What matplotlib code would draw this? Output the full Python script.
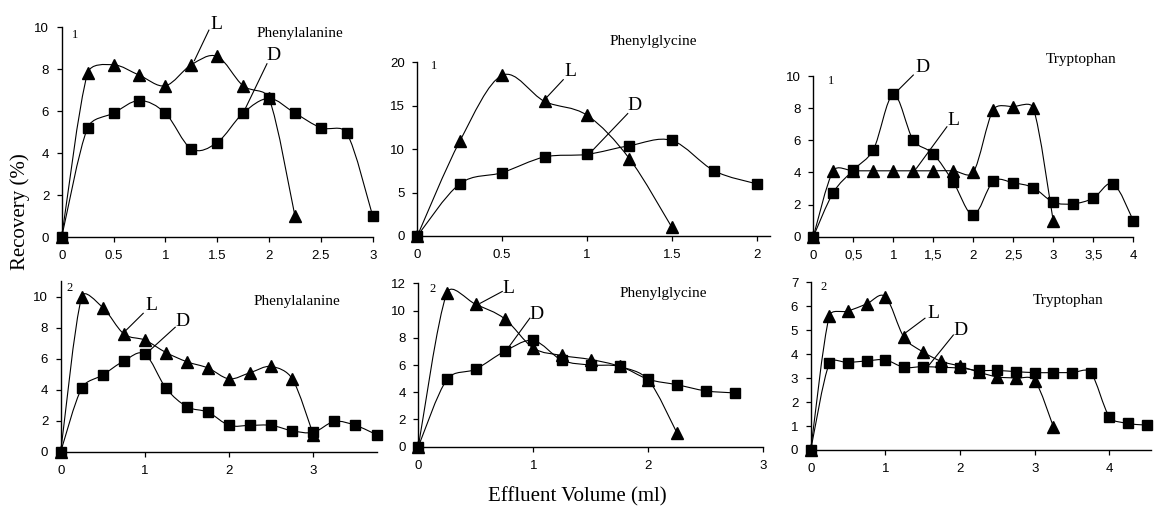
import numpy as np
import matplotlib
matplotlib.use("Agg")
import matplotlib.pyplot as plt
from matplotlib.path import Path
from matplotlib.patches import PathPatch

W, H = 1154, 509

# ---------------- data ----------------
# Panel 1: Phenylalanine (1)
p1_L_x = [0, 0.25, 0.5, 0.75, 1.0, 1.25, 1.5, 1.75, 2.0, 2.25]
p1_L_y = [0, 7.8, 8.2, 7.7, 7.2, 8.2, 8.6, 7.2, 6.6, 1.0]
p1_D_x = [0, 0.25, 0.5, 0.75, 1.0, 1.25, 1.5, 1.75, 2.0, 2.25, 2.5, 2.75, 3.0]
p1_D_y = [0, 5.2, 5.9, 6.5, 5.9, 4.2, 4.5, 5.9, 6.6, 5.9, 5.2, 4.95, 1.0]

# Panel 2: Phenylglycine (1)
p2_L_x = [0, 0.25, 0.5, 0.75, 1.0, 1.25, 1.5]
p2_L_y = [0, 10.9, 18.5, 15.5, 13.9, 8.9, 1.0]
p2_D_x = [0, 0.25, 0.5, 0.75, 1.0, 1.25, 1.5, 1.75, 2.0]
p2_D_y = [0, 6.0, 7.3, 9.1, 9.4, 10.4, 11.0, 7.5, 6.0]

# Panel 3: Tryptophan (1)
p3_L_x = [0, 0.25, 0.5, 0.75, 1.0, 1.25, 1.5, 1.75, 2.0, 2.25, 2.5, 2.75, 3.0]
p3_L_y = [0, 4.1, 4.1, 4.1, 4.1, 4.1, 4.1, 4.1, 4.0, 7.9, 8.1, 8.0, 0.95]
p3_D_x = [0, 0.25, 0.5, 0.75, 1.0, 1.25, 1.5, 1.75, 2.0, 2.25, 2.5, 2.75, 3.0,
          3.25, 3.5, 3.75, 4.0]
p3_D_y = [0, 2.75, 4.15, 5.4, 8.85, 6.0, 5.15, 3.4, 1.35, 3.45, 3.35, 3.05, 2.15,
          2.05, 2.4, 3.3, 1.0]

# Panel 4: Phenylalanine (2)
p4_L_x = [0, 0.25, 0.5, 0.75, 1.0, 1.25, 1.5, 1.75, 2.0, 2.25, 2.5, 2.75, 3.0]
p4_L_y = [0, 10.0, 9.3, 7.6, 7.2, 6.4, 5.8, 5.4, 4.7, 5.1, 5.5, 4.7, 1.1]
p4_D_x = [0, 0.25, 0.5, 0.75, 1.0, 1.25, 1.5, 1.75, 2.0, 2.25, 2.5, 2.75, 3.0,
          3.25, 3.5, 3.75]
p4_D_y = [0, 4.1, 4.95, 5.85, 6.3, 4.1, 2.9, 2.55, 1.7, 1.7, 1.7, 1.35, 1.25,
          1.95, 1.7, 1.1]

# Panel 5: Phenylglycine (2)
p5_L_x = [0, 0.25, 0.5, 0.75, 1.0, 1.25, 1.5, 1.75, 2.0, 2.25]
p5_L_y = [0, 11.3, 10.45, 9.4, 7.25, 6.7, 6.4, 5.9, 4.9, 1.0]
p5_D_x = [0, 0.25, 0.5, 0.75, 1.0, 1.25, 1.5, 1.75, 2.0, 2.25, 2.5, 2.75]
p5_D_y = [0, 4.95, 5.7, 7.0, 7.8, 6.35, 6.0, 5.9, 4.95, 4.55, 4.1, 3.95]

# Panel 6: Tryptophan (2)
p6_L_x = [0, 0.25, 0.5, 0.75, 1.0, 1.25, 1.5, 1.75, 2.0, 2.25, 2.5, 2.75, 3.0, 3.25]
p6_L_y = [0, 5.6, 5.8, 6.1, 6.4, 4.7, 4.1, 3.7, 3.5, 3.25, 3.05, 3.0, 2.9, 0.97]
p6_D_x = [0, 0.25, 0.5, 0.75, 1.0, 1.25, 1.5, 1.75, 2.0, 2.25, 2.5, 2.75, 3.0,
          3.25, 3.5, 3.75, 4.0, 4.25, 4.5]
p6_D_y = [0, 3.62, 3.65, 3.72, 3.76, 3.45, 3.48, 3.45, 3.42, 3.32, 3.32, 3.27, 3.23,
          3.23, 3.23, 3.23, 1.39, 1.11, 1.04]

titles = ["Phenylalanine", "Phenylglycine", "Tryptophan",
          "Phenylalanine", "Phenylglycine", "Tryptophan"]
panel_nums = ["1", "1", "1", "2", "2", "2"]

xticks_top_a = [0, 0.5, 1, 1.5, 2, 2.5, 3]
xticklabels_top_a = ["0", "0.5", "1", "1.5", "2", "2.5", "3"]
xticks_top_b = [0, 0.5, 1, 1.5, 2]
xticklabels_top_b = ["0", "0.5", "1", "1.5", "2"]
xticks_top_c = [0, 0.5, 1, 1.5, 2, 2.5, 3, 3.5, 4]
xticklabels_top_c = ["0", "0,5", "1", "1,5", "2", "2,5", "3", "3,5", "4"]
xticks_bot_a = [0, 1, 2, 3]
xticks_bot_b = [0, 1, 2, 3]
xticks_bot_c = [0, 1, 2, 3, 4]

yticks_1 = [0, 2, 4, 6, 8, 10]
yticks_2 = [0, 5, 10, 15, 20]
yticks_3 = [0, 2, 4, 6, 8, 10]
yticks_4 = [0, 2, 4, 6, 8, 10]
yticks_5 = [0, 2, 4, 6, 8, 10, 12]
yticks_6 = [0, 1, 2, 3, 4, 5, 6, 7]

ylabel = "Recovery (%)"
xlabel = "Effluent Volume (ml)"

# ---------------- helpers ----------------
def smooth_path(x, y, sx, sy, k=0.4):
    """Spreadsheet-like smoothed line: cubic Bezier segments whose handles follow
    Catmull-Rom tangents (computed in pixel space), clamped to the segment length."""
    pts = np.column_stack([np.asarray(x, float) * sx, np.asarray(y, float) * sy])
    n = len(pts)
    tang = []
    for i in range(n):
        p0 = pts[i - 1] if i > 0 else pts[i]
        p2 = pts[i + 1] if i < n - 1 else pts[i]
        tang.append((p2 - p0) / 6.0)
    verts = [pts[0]]
    codes = [Path.MOVETO]
    for i in range(n - 1):
        a, b = pts[i], pts[i + 1]
        seg = np.hypot(*(b - a))
        ta, tb = tang[i], tang[i + 1]
        la, lb = np.hypot(*ta), np.hypot(*tb)
        fa = min(1.0, k * seg / la) if la > 0 else 0.0
        fb = min(1.0, k * seg / lb) if lb > 0 else 0.0
        verts += [a + ta * fa, b - tb * fb, b]
        codes += [Path.CURVE4] * 3
    verts = np.array(verts) / np.array([sx, sy])
    return Path(verts, codes)

def make_ax(fig, x0, x1, ybot, ytop):
    return fig.add_axes([x0 / W, 1 - ybot / H, (x1 - x0) / W, (ybot - ytop) / H])

SERIF = ["Liberation Serif", "DejaVu Serif"]
SANS = ["Liberation Sans", "DejaVu Sans"]

fig = plt.figure(figsize=(W / 100, H / 100), dpi=100)
fig.patch.set_facecolor("white")

panels = [
    # (rect px: x0, x1, ybot, ytop), xlim, ylim, L, D, xticks, xticklabels, yticks
    ((61.7, 372.7, 237, 27), (0, 3), (0, 10), (p1_L_x, p1_L_y), (p1_D_x, p1_D_y),
     xticks_top_a, xticklabels_top_a, yticks_1),
    ((417.3, 770.3, 236, 62.3), (0, 2.08), (0, 20), (p2_L_x, p2_L_y), (p2_D_x, p2_D_y),
     xticks_top_b, xticklabels_top_b, yticks_2),
    ((813.3, 1133.3, 236.7, 76), (0, 4), (0, 10), (p3_L_x, p3_L_y), (p3_D_x, p3_D_y),
     xticks_top_c, xticklabels_top_c, yticks_3),
    ((60.7, 376.5, 451.7, 281.2), (0, 3.75), (0, 11), (p4_L_x, p4_L_y), (p4_D_x, p4_D_y),
     xticks_bot_a, [str(v) for v in xticks_bot_a], yticks_4),
    ((418.3, 763.3, 446.7, 283.3), (0, 3), (0, 12), (p5_L_x, p5_L_y), (p5_D_x, p5_D_y),
     xticks_bot_b, [str(v) for v in xticks_bot_b], yticks_5),
    ((810.7, 1150.5, 450, 282.3), (0, 4.55), (0, 7), (p6_L_x, p6_L_y), (p6_D_x, p6_D_y),
     xticks_bot_c, [str(v) for v in xticks_bot_c], yticks_6),
]

# annotation layout per panel (data coords)
annos = [
    dict(num=(0.13, 9.6), title=(2.30, 9.7), L=(1.49, 10.1), Lline=((1.42, 9.85), (1.28, 8.4)),
         D=(2.04, 8.65), Dline=((1.98, 8.25), (1.76, 6.0))),
    dict(num=(0.10, 19.6), title=(1.39, 22.4), L=(0.90, 18.9), Lline=((0.86, 18.0), (0.75, 15.7)),
         D=(1.28, 15.0), Dline=((1.24, 14.1), (1.02, 9.6))),
    dict(num=(0.22, 9.7), title=(3.35, 11.0), L=(1.75, 7.2), Lline=((1.67, 6.84), (1.29, 4.26)),
         D=(1.36, 10.5), Dline=((1.25, 10.06), (1.02, 8.92))),
    dict(num=(0.10, 10.55), title=(2.80, 9.68), L=(1.08, 9.46), Lline=((0.98, 8.93), (0.74, 7.64)),
         D=(1.45, 8.39), Dline=((1.36, 8.03), (1.04, 6.45))),
    dict(num=(0.12, 11.6), title=(2.13, 11.28), L=(0.78, 11.65), Lline=((0.73, 11.4), (0.54, 10.54)),
         D=(1.03, 9.68), Dline=((0.97, 9.44), (0.78, 7.24))),
    dict(num=(0.17, 6.8), title=(3.45, 6.26), L=(1.64, 5.7), Lline=((1.53, 5.5), (1.26, 4.87)),
         D=(2.0, 5.0), Dline=((1.91, 4.8), (1.55, 3.41))),
]

for i, (rect, xl, yl, L, D, xt, xtl, yt) in enumerate(panels):
    ax = make_ax(fig, *rect)
    ax.set_xlim(*xl)
    ax.set_ylim(*yl)
    # pixels per data unit (for the smoothing in screen space)
    sxp = (rect[1] - rect[0]) / (xl[1] - xl[0])
    syp = (rect[2] - rect[3]) / (yl[1] - yl[0])
    for s in ["top", "right"]:
        ax.spines[s].set_visible(False)
    for s in ["left", "bottom"]:
        ax.spines[s].set_linewidth(1.0)
        ax.spines[s].set_color("black")
    ax.set_xticks(xt)
    ax.set_xticklabels(xtl, family=SANS, fontsize=9.5)
    ax.set_yticks(yt)
    ax.set_yticklabels([str(v) for v in yt], family=SANS, fontsize=9.5)
    ax.tick_params(direction="out", length=3.5, width=0.9, colors="black")
    ax.tick_params(axis="x", pad=6)
    ax.tick_params(axis="y", pad=5.5)
    ax.patch.set_alpha(0)

    for (sx, sy), mk, ms in [(D, "s", 6.5), (L, "^", 8.5)]:
        ax.add_patch(PathPatch(smooth_path(sx, sy, sxp, syp), fill=False, edgecolor="black",
                               linewidth=0.8, clip_on=False, zorder=3))
        ax.plot(sx, sy, linestyle="none", marker=mk, markersize=ms, color="black",
                clip_on=False, zorder=4)

    a = annos[i]
    ax.text(*a["num"], panel_nums[i], family=SERIF, fontsize=9, ha="center", va="center",
            clip_on=False)
    ax.text(*a["title"], titles[i], family=SERIF, fontsize=11, ha="center", va="center",
            clip_on=False)
    ax.text(*a["L"], "L", family=SERIF, fontsize=14, ha="center", va="center", clip_on=False)
    ax.text(*a["D"], "D", family=SERIF, fontsize=14, ha="center", va="center", clip_on=False)
    for key in ["Lline", "Dline"]:
        (xa, ya), (xb, yb) = a[key]
        ax.plot([xa, xb], [ya, yb], color="black", linewidth=0.8, clip_on=False, zorder=5)

fig.text(20 / W, 1 - 212 / H, ylabel, rotation=90, family=SERIF, fontsize=15,
         ha="center", va="center")
fig.text(577 / W, 1 - 497 / H, xlabel, family=SERIF, fontsize=15, ha="center", va="center")

fig.savefig("out.png", dpi=100)
